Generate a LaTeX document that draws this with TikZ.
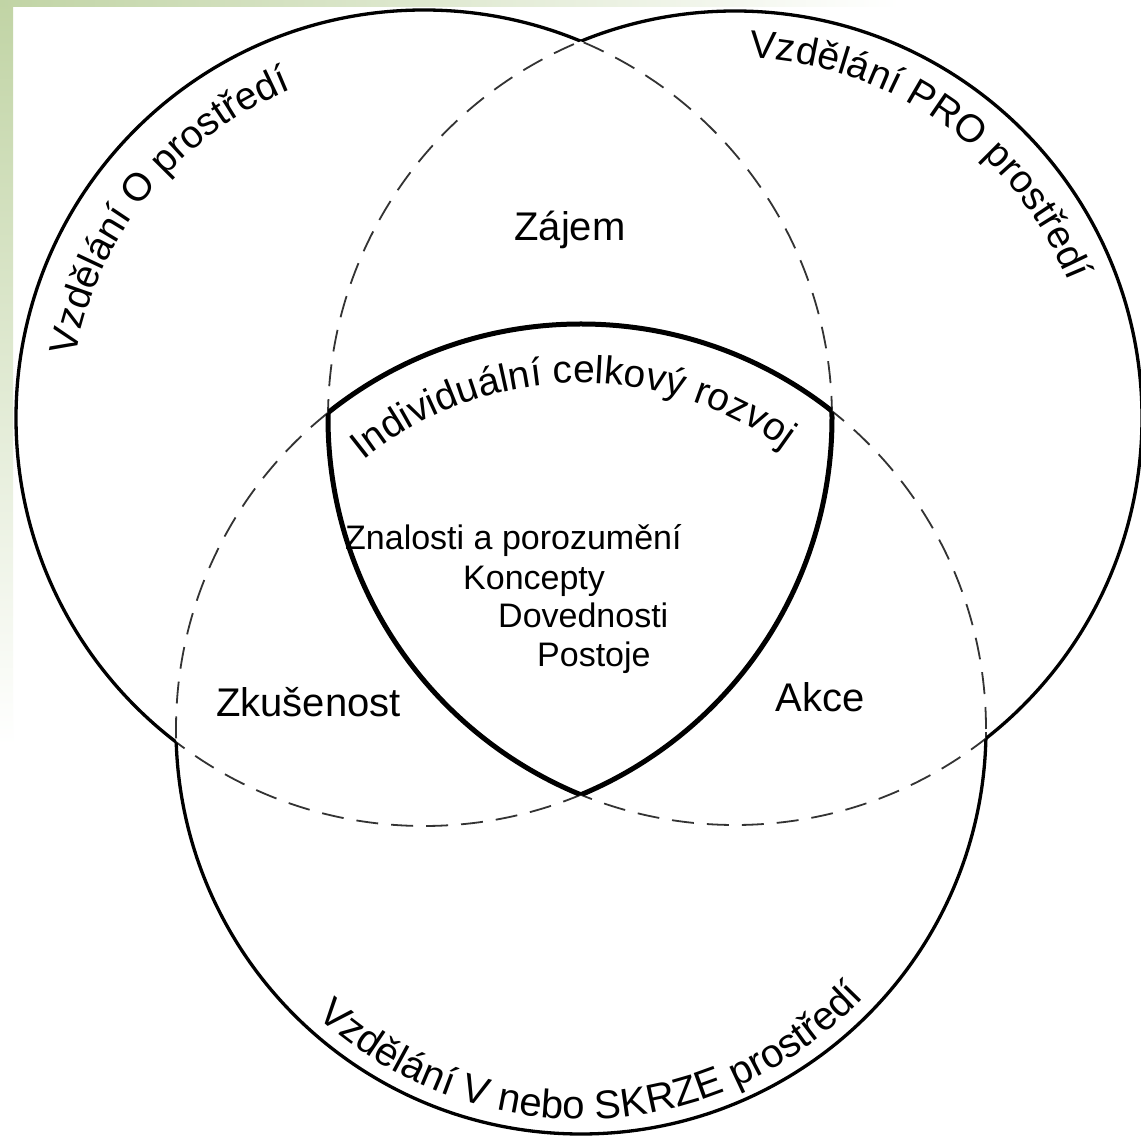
\documentclass[tikz,border=0pt]{standalone}
\usepackage{fontspec}
\setmainfont{Liberation Sans}
\usetikzlibrary{calc,decorations.text}
\definecolor{bggreen}{RGB}{193,212,165}
\newcommand{\curvefont}{\fontsize{39}{47}\selectfont}
\newcommand{\bigcurvefont}{\fontsize{40}{48}\selectfont}
\begin{document}
\begin{tikzpicture}[x=1pt,y=1pt,
  outerline/.style={line width=3.3pt, black},
  innerdash/.style={line width=1.8pt, black!80, dash pattern=on 22pt off 13pt},
  coreline/.style={line width=5pt, black},
  lbl/.style={font=\fontsize{40}{48}\selectfont, inner sep=0pt, anchor=base},
  core/.style={font=\fontsize{34}{40}\selectfont, inner sep=0pt, anchor=base west}]
\useasboundingbox (0,0) rectangle (1141,1136);
\fill[white] (0,0) rectangle (1141,1136);
\shade[top color=bggreen, bottom color=white] (0,390) rectangle (13,1136);
\shade[left color=bggreen, right color=white] (0,1129) rectangle (900,1136);

\coordinate (cL) at (424,718);
\coordinate (cR) at (735,718);
\coordinate (cB) at (581,407);
\def\rL{408}
\def\rR{407}
\def\rB{405}

% dashed inner arcs (full circles, covered later by solid parts)
\draw[innerdash] (cL) circle[radius=\rL];
\draw[innerdash] (cR) circle[radius=\rR];
\draw[innerdash] (cB) circle[radius=\rB];

% solid outer boundary: clip to outside of the other circles
% (counterclockwise frame + clockwise circle, nonzero rule)
\begin{scope}
  \clip (-100,-100) -- (1300,-100) -- (1300,1300) -- (-100,1300) -- cycle
        ($(cR)+(0:\rR)$) arc[start angle=0, end angle=-360, radius=\rR] -- cycle;
  \clip (-100,-100) -- (1300,-100) -- (1300,1300) -- (-100,1300) -- cycle
        ($(cB)+(0:\rB)$) arc[start angle=0, end angle=-360, radius=\rB] -- cycle;
  \draw[outerline] (cL) circle[radius=\rL];
\end{scope}
\begin{scope}
  \clip (-100,-100) -- (1300,-100) -- (1300,1300) -- (-100,1300) -- cycle
        ($(cL)+(0:\rL)$) arc[start angle=0, end angle=-360, radius=\rL] -- cycle;
  \clip (-100,-100) -- (1300,-100) -- (1300,1300) -- (-100,1300) -- cycle
        ($(cB)+(0:\rB)$) arc[start angle=0, end angle=-360, radius=\rB] -- cycle;
  \draw[outerline] (cR) circle[radius=\rR];
\end{scope}
\begin{scope}
  \clip (-100,-100) -- (1300,-100) -- (1300,1300) -- (-100,1300) -- cycle
        ($(cL)+(0:\rL)$) arc[start angle=0, end angle=-360, radius=\rL] -- cycle;
  \clip (-100,-100) -- (1300,-100) -- (1300,1300) -- (-100,1300) -- cycle
        ($(cR)+(0:\rR)$) arc[start angle=0, end angle=-360, radius=\rR] -- cycle;
  \draw[outerline] (cB) circle[radius=\rB];
\end{scope}

% thick central region
\begin{scope}
  \clip (cL) circle[radius=\rL];
  \clip (cR) circle[radius=\rR];
  \draw[coreline] (cB) circle[radius=\rB];
\end{scope}
\begin{scope}
  \clip (cL) circle[radius=\rL];
  \clip (cB) circle[radius=\rB];
  \draw[coreline] (cR) circle[radius=\rR];
\end{scope}
\begin{scope}
  \clip (cR) circle[radius=\rR];
  \clip (cB) circle[radius=\rB];
  \draw[coreline] (cL) circle[radius=\rL];
\end{scope}

% curved labels
\path[decorate, decoration={text along path, text align=center,
  text={|\curvefont|Vzdělání O prostředí}}]
  ($(cL)+(186:354)$) arc[start angle=186, end angle=96, radius=354];
\path[decorate, decoration={text along path, text align=center,
  text={|\curvefont|Vzdělání PRO prostředí}}]
  ($(cR)+(100:360)$) arc[start angle=100, end angle=10, radius=360];
\path[decorate, decoration={text along path, text align=center,
  text={|\curvefont|Individuální celkový rozvoj}}]
  ($(cB)+(136.5:346)$) arc[start angle=136.5, end angle=46.5, radius=346];
\path[decorate, decoration={text along path, text align=center,
  text={|\bigcurvefont|Vzdělání V nebo SKRZE prostředí}}]
  ($(cB)+(212:390)$) arc[start angle=212, end angle=332, radius=390];

% region labels
\node[lbl] (zajem) at (570,895) {Zájem};
\node[lbl] (zkus) at (308.5,419) {Zkušenost};
\node[lbl] (akce) at (820,424) {Akce};

% core labels
\node[core] (znal) at (345,586) {Znalosti a porozumění};
\node[core] (konc) at (463,546) {Koncepty};
\node[core] (dove) at (498,508) {Dovednosti};
\node[core] (post) at (537,469) {Postoje};
\end{tikzpicture}
\end{document}
